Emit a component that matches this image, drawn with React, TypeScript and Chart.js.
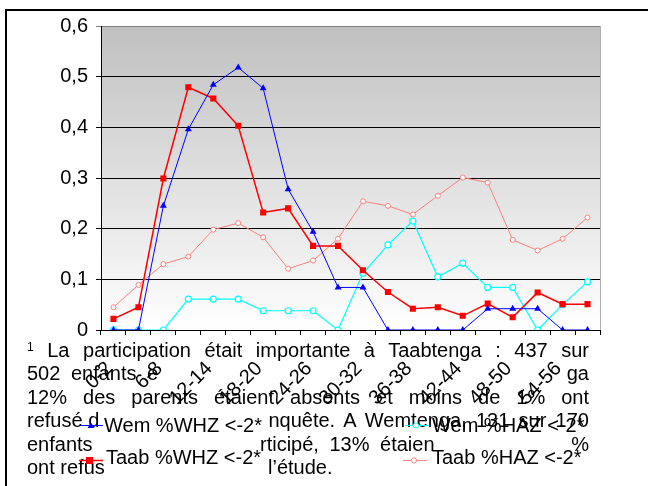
import React, { useEffect, useRef } from "react";
import { Chart, registerables } from "chart.js";

Chart.register(...registerables);

const categories = ["0-2", "3-5", "6-8", "9-11", "12-14", "15-17", "18-20", "21-23", "24-26", "27-29", "30-32", "33-35", "36-38", "39-41", "42-44", "45-47", "48-50", "51-53", "54-56", "57-59"];
const wemWHZ = [0, 0, 0.245, 0.396, 0.484, 0.518, 0.477, 0.278, 0.194, 0.084, 0.084, 0, 0, 0, 0, 0.042, 0.042, 0.042, 0, 0];
const taabWHZ = [0.022, 0.045, 0.299, 0.479, 0.457, 0.403, 0.232, 0.24, 0.166, 0.166, 0.118, 0.075, 0.042, 0.045, 0.028, 0.052, 0.025, 0.074, 0.051, 0.051];
const wemHAZ = [0, 0, 0, 0.061, 0.061, 0.061, 0.038, 0.038, 0.038, 0, 0.112, 0.168, 0.215, 0.105, 0.132, 0.084, 0.084, 0, 0.05, 0.095];
const taabHAZ = [0.045, 0.089, 0.13, 0.145, 0.198, 0.211, 0.183, 0.121, 0.137, 0.18, 0.254, 0.245, 0.228, 0.265, 0.301, 0.291, 0.178, 0.157, 0.18, 0.222];
const seriesNames = ["Wem %WHZ <-2*", "Taab %WHZ <-2*", "Wem %HAZ <-2*", "Taab %HAZ <-2*"];
const yMin = 0;
const yMax = 0.6;
const yStep = 0.1;

const FONT = "'Liberation Sans', Arial, sans-serif";

const bgPlugin = {
  id: "bgGradient",
  beforeDraw(chart: any) {
    const { ctx, chartArea } = chart;
    if (!chartArea) return;
    const g = ctx.createLinearGradient(0, chartArea.top, 0, chartArea.bottom);
    g.addColorStop(0, "#c0c0c0");
    g.addColorStop(1, "#ffffff");
    ctx.save();
    ctx.fillStyle = g;
    ctx.fillRect(chartArea.left, chartArea.top, chartArea.right - chartArea.left, chartArea.bottom - chartArea.top);
    ctx.strokeStyle = "#b0b0b0";
    ctx.lineWidth = 1;
    ctx.beginPath();
    ctx.moveTo(chartArea.right + 0.5, chartArea.top);
    ctx.lineTo(chartArea.right + 0.5, chartArea.bottom);
    ctx.stroke();
    ctx.restore();
  },
};

function LegendMark({ color, style }: { color: string; style: string }) {
  let marker: any = null;
  if (style === "triangle") marker = <polygon points="12,2.5 15.5,8 8.5,8" fill={color} />;
  else if (style === "rect") marker = <rect x={7} y={2} width={7} height={7} fill={color} />;
  else marker = <circle cx={11} cy={5.5} r={2.6} fill="#fff" stroke={color} strokeWidth={1} />;
  return (
    <svg width={24} height={11} style={{ display: "block" }}>
      <line x1={0} y1={5.5} x2={24} y2={5.5} stroke={color} strokeWidth={style === "rect" ? 1.5 : 1} />
      {marker}
    </svg>
  );
}

export default function App() {
  const ref = useRef<HTMLCanvasElement | null>(null);
  useEffect(() => {
    if (!ref.current) return;
    const chart = new Chart(ref.current, {
      type: "line",
      data: {
        labels: categories,
        datasets: [
          { label: seriesNames[0], data: wemWHZ, borderColor: "#0000ff", backgroundColor: "#0000ff", borderWidth: 1, pointStyle: "triangle", pointRadius: 4, pointBorderWidth: 0, pointBackgroundColor: "#0000ff" },
          { label: seriesNames[1], data: taabWHZ, borderColor: "#ff0000", backgroundColor: "#ff0000", borderWidth: 1.5, pointStyle: "rect", pointRadius: 4.3, pointBorderWidth: 0, pointBackgroundColor: "#ff0000" },
          { label: seriesNames[2], data: wemHAZ, borderColor: "#00ffff", backgroundColor: "#ffffff", borderWidth: 1.2, pointStyle: "circle", pointRadius: 3, pointBorderWidth: 1.2, pointBackgroundColor: "#ffffff" },
          { label: seriesNames[3], data: taabHAZ, borderColor: "#ff8080", backgroundColor: "#ffffff", borderWidth: 1, pointStyle: "circle", pointRadius: 2.5, pointBorderWidth: 1, pointBackgroundColor: "#ffffff" },
        ],
      },
      options: {
        animation: false,
        responsive: false,
        devicePixelRatio: 1,
        layout: { padding: { left: 0, top: 26, right: 48, bottom: 0 } },
        plugins: { legend: { display: false }, tooltip: { enabled: false } },
        elements: { line: { tension: 0 } },
        scales: {
          x: {
            offset: true,
            grid: { offset: true, drawOnChartArea: false, drawTicks: true, tickLength: 5, color: "#000" },
            border: { color: "#000", width: 1 },
            ticks: {
              autoSkip: false,
              maxRotation: 45,
              minRotation: 45,
              padding: 22,
              labelOffset: -4,
              color: "#000",
              font: { family: FONT, size: 20 },
              callback: (_v: any, i: number) => (i % 2 === 0 ? categories[i] : ""),
            },
            afterFit: (s: any) => {
              s.height = 156;
            },
          },
          y: {
            min: yMin,
            max: yMax,
            grid: {
              drawTicks: true,
              tickLength: 5,
              color: (c: any) => (c.tick && Math.abs(c.tick.value - yMax) < 1e-9 ? "#808080" : "#000"),
            },
            border: { color: "#000", width: 1 },
            ticks: {
              stepSize: yStep,
              padding: 8,
              color: "#000",
              font: { family: FONT, size: 20 },
              callback: (v: any) => (Number(v) === 0 ? "0" : Number(v).toFixed(1).replace(".", ",")),
            },
            afterFit: (s: any) => {
              s.width = 101;
            },
          },
        },
      },
      plugins: [bgPlugin],
    });
    return () => chart.destroy();
  }, []);

  const text: React.CSSProperties = { position: "absolute", fontFamily: FONT, fontSize: 20, lineHeight: "23.5px", color: "#000", whiteSpace: "pre" };
  const lineTop = (i: number) => 338.5 + i * 23.5;
  const full: React.CSSProperties = { ...text, left: 27, width: 562, textAlign: "justify", textAlignLast: "justify" as any, whiteSpace: "normal" };

  return (
    <div style={{ position: "fixed", left: 0, top: 0, width: 648, height: 486, background: "#fff", overflow: "hidden" }}>
      <div style={{ position: "absolute", left: 5, top: 9, width: 700, height: 600, borderLeft: "2px solid #000", borderTop: "2px solid #000" }} />
      <canvas ref={ref} width={648} height={486} style={{ position: "absolute", left: 0, top: 0, width: 648, height: 486 }} />
      <div style={{ ...full, top: lineTop(0) }}>
        <sup style={{ fontSize: 12, verticalAlign: "6px", lineHeight: 0 }}>1</sup> La participation était importante à Taabtenga : 437 sur
      </div>
      <div style={{ ...text, left: 27, top: lineTop(1), wordSpacing: 5 }}>502 enfants e</div>
      <div style={{ ...text, right: 648 - 589, top: lineTop(1) }}>ga</div>
      <div style={{ ...full, top: lineTop(2) }}>12% des parents étaient absents et moins de 1% ont</div>
      <div style={{ ...text, left: 27, top: lineTop(3) }}>refusé d</div>
      <div style={{ ...text, right: 648 - 589, top: lineTop(3), wordSpacing: 3.7 }}>nquête. A Wemtenga, 131 sur 170</div>
      <div style={{ ...text, left: 27, top: lineTop(4) }}>enfants</div>
      <div style={{ ...text, left: 260, top: lineTop(4), wordSpacing: 5 }}>rticipé, 13% étaien</div>
      <div style={{ ...text, right: 648 - 589, top: lineTop(4) }}>%</div>
      <div style={{ ...text, left: 27, top: lineTop(5) }}>ont refus</div>
      <div style={{ ...text, left: 268, top: lineTop(5) }}>l’étude.</div>

      <div style={{ position: "absolute", left: 79, top: 420 }}><LegendMark color="#0000ff" style="triangle" /></div>
      <div style={{ ...text, left: 104, top: 414 }}>{seriesNames[0]}</div>
      <div style={{ position: "absolute", left: 79, top: 454.5 }}><LegendMark color="#ff0000" style="rect" /></div>
      <div style={{ ...text, left: 106, top: 446 }}>{seriesNames[1]}</div>
      <div style={{ position: "absolute", left: 405, top: 420 }}><LegendMark color="#00ffff" style="circle" /></div>
      <div style={{ ...text, left: 432, top: 414 }}>{seriesNames[2]}</div>
      <div style={{ position: "absolute", left: 403, top: 454.5 }}><LegendMark color="#ff8080" style="circle" /></div>
      <div style={{ ...text, left: 432, top: 446 }}>{seriesNames[3]}</div>
    </div>
  );
}
